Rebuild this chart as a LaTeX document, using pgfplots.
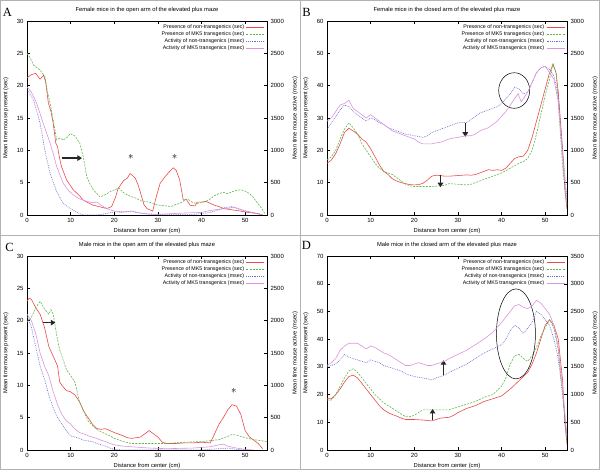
\documentclass[border=0pt]{standalone}
\usepackage{fontspec}
\setmainfont{Liberation Sans}
\newfontfamily\letterfont{Liberation Serif}
\usepackage{pgfplots}
\pgfplotsset{compat=1.18}
\usetikzlibrary{arrows.meta}
\definecolor{cRed}{RGB}{235,75,75}
\definecolor{cGreen}{RGB}{95,185,75}
\definecolor{cBlue}{RGB}{105,105,215}
\definecolor{cPink}{RGB}{220,150,220}
\tikzset{
  sRed/.style={cRed, line width=0.6pt, solid},
  sGreen/.style={cGreen, line width=0.6pt, dash pattern=on 2pt off 1.2pt},
  sBlue/.style={cBlue, line width=0.6pt, dash pattern=on 0.8pt off 1pt},
  sPink/.style={cPink, line width=0.6pt, solid},
  ann/.style={black!85, line width=1.3pt, -{Triangle[length=4.5pt,width=5.5pt]}}
}
\pgfplotsset{
  common/.style={
    width=240pt, height=194pt, scale only axis,
    xmin=0, xmax=55, xtick={0,10,20,30,40,50},
    tick align=inside, major tick length=3pt,
    tick style={black, line width=0.4pt},
    axis line style={line width=0.5pt},
    ticklabel style={font=\fontsize{6}{7}\selectfont},
    /pgf/number format/assume math mode=true,
    /pgf/number format/1000 sep={},
    scaled ticks=false,
    label style={font=\fontsize{5.8}{7}\selectfont},
    every axis title shift=0pt,
    title style={font=\fontsize{5.8}{7}\selectfont, at={(axis description cs:0.5,1.057)}, anchor=center},
    xlabel style={at={(axis description cs:0.5,-0.082)}, anchor=center},
  },
  left/.style={common, ytick pos=left,
    ylabel={Mean time mouse present (sec)},
    ylabel style={at={(axis description cs:-0.088,0.5)}, anchor=center},
    xlabel={Distance from center (cm)}},
  right/.style={common, axis y line*=right, axis x line=none,
    ylabel={Mean time mouse active (msec)},
    ylabel style={at={(axis description cs:1.117,0.5)}, anchor=center},
    legend style={at={(1,1)}, anchor=north east, draw=none, fill=none,
      font=\fontsize{5.3}{6}\selectfont, row sep=-2.2pt, inner xsep=2pt, inner ysep=1pt},
    legend cell align=right, legend plot pos=right,
    legend image code/.code={\draw[##1] (0pt,0pt) -- (18pt,0pt);}},
}
\begin{document}
\begin{tikzpicture}
\useasboundingbox (0pt,0pt) rectangle (600pt,470pt);
\fill[white] (0pt,0pt) rectangle (600pt,470pt);
\draw[gray!60, line width=0.8pt] (0.5pt,0.5pt) rectangle (599.5pt,469.5pt);
\draw[gray!60, line width=0.8pt] (300pt,0pt) -- (300pt,470pt);
\draw[gray!60, line width=0.8pt] (0pt,235pt) -- (600pt,235pt);
\node[font=\letterfont\fontsize{12.5}{13}\selectfont] at (7.5pt,457.5pt) {A};
\node[font=\letterfont\fontsize{12.5}{13}\selectfont] at (306.5pt,457.5pt) {B};
\node[font=\letterfont\fontsize{12.5}{13}\selectfont] at (9.5pt,222.5pt) {C};
\node[font=\letterfont\fontsize{12.5}{13}\selectfont] at (306.5pt,224.5pt) {D};

% ---------------- Panel A ----------------
\begin{axis}[left, at={(27pt,255pt)}, anchor=south west, ymin=0, ymax=30, ytick={0,5,...,30},
  title={Female mice in the open arm of the elevated plus maze}]
\addplot[sRed] coordinates {(0,21.2)(1,21.7)(2,21.9)(3,21.0)(3.8,21.6)(4.3,20.5)(4.9,17.3)(5.5,16.0)(6,14.2)(6.6,11.1)(7,10.6)(7.4,9.0)(7.9,7.5)(9.1,5.4)(10.6,3.9)(12,3.0)(12.9,2.3)(14,1.9)(15.2,1.5)(16.5,1.3)(18.3,1.0)(19.4,1.3)(20.2,2.6)(20.9,4.1)(22.1,5.3)(23,5.7)(23.6,6.4)(24.2,6.1)(24.8,5.7)(25.5,4.6)(26.2,3.0)(26.8,1.6)(27.5,1.0)(28.8,0.6)(29.5,2.5)(30.5,4.9)(31.5,5.8)(32.5,6.6)(33.5,7.3)(34.2,6.9)(35,5.4)(35.5,3.5)(35.8,2.3)(36.5,2.4)(37.4,1.5)(38.5,1.4)(39,2.0)(40,2.0)(41,2.1)(42,1.8)(43,1.5)(44,1.3)(45,1.0)(47,0.8)(49,0.6)(50.5,0.4)(52,0.3)(53,0.2)(54,0.0)};
\addplot[sGreen] coordinates {(0,25.0)(0.8,24.2)(1.5,23.2)(3,22.4)(4.1,21.4)(4.7,19.0)(5.3,17.3)(6,14.7)(6.8,11.6)(7.5,11.9)(8.3,11.6)(9.2,12.0)(9.9,12.6)(11,12.2)(12.1,11.1)(12.9,9.0)(13.7,5.9)(14.5,4.7)(15.2,3.9)(16.7,2.8)(17.5,3.0)(18.6,3.4)(19.5,3.8)(20.2,3.9)(21,4.2)(22,3.5)(23.6,2.9)(25,2.6)(26,2.2)(27,2.1)(28,2.0)(29,1.7)(30.5,1.5)(32,1.4)(33,1.3)(34,1.6)(35,1.8)(36,2.2)(36.8,2.5)(38,1.9)(39,1.8)(40,1.9)(41,2.1)(42,2.5)(43,3.0)(44,3.3)(45,3.5)(46,3.3)(47,3.6)(48,3.8)(49,3.9)(50,3.7)(51,3.3)(52,2.6)(53,1.7)(54,0.8)(54.6,0.1)};
\draw[ann] (axis cs:8,8.8) -- (axis cs:12.6,8.8);
\node[font=\fontsize{11}{11}\selectfont] at (axis cs:23.8,9.0) {$\ast$};
\node[font=\fontsize{11}{11}\selectfont] at (axis cs:33.8,9.0) {$\ast$};
\end{axis}
\begin{axis}[right, at={(27pt,255pt)}, anchor=south west, ymin=0, ymax=3000, ytick={0,500,...,3000}]
\addlegendimage{sRed}\addlegendentry{Presence of non-transgenics (sec)}
\addlegendimage{sGreen}\addlegendentry{Presence of MK5 transgenics (sec)}
\addplot[sBlue] coordinates {(0,1940)(1.5,1780)(3,1420)(4.1,1000)(5.3,640)(6.8,360)(8.3,180)(9.9,100)(11,60)(12.1,20)(13,0)(16,0)(18,20)(20,50)(22,40)(24,60)(25,40)(27,20)(30,10)(34,10)(38,10)(40,20)(42,40)(44,80)(45,110)(47,130)(49,80)(51,50)(53,20)(54,0)};
\addlegendentry{Activity of non-transgenics (msec)}
\addplot[sPink] coordinates {(0,1980)(1,1900)(2.2,1730)(3.7,1420)(5.3,1110)(6,950)(6.8,750)(8.3,490)(9.5,380)(10.6,310)(12,250)(13.7,210)(15,190)(16,200)(17,150)(18.3,100)(19,80)(20,60)(22,50)(24,60)(26,30)(28,10)(30,10)(33,20)(36,30)(40,40)(42,70)(44,90)(46,100)(47,120)(48,110)(50,60)(52,30)(54,0)};
\addlegendentry{Activity of MK5 transgenics (msec)}
\end{axis}

% ---------------- Panel B ----------------
\begin{axis}[left, at={(327pt,255pt)}, anchor=south west, ymin=0, ymax=60, ytick={0,10,...,60},
  title={Female mice in the closed arm of the elevated plus maze}]
\addplot[sRed] coordinates {(0,16)(1,17)(2,19)(3,22)(4,25.5)(5,26.8)(6,26)(7,25)(8,23.5)(9,22.5)(10,20.5)(11,18)(12,15.5)(13,13.5)(14,12.5)(15,11.2)(16,10.5)(17,10)(18,9.7)(19,9.4)(20,9.3)(21,9.4)(22,9.8)(23,10.8)(24,12)(25,12.3)(26,12.2)(27,12)(28,12)(30,12.2)(32,12.4)(33,12.3)(34,12.5)(35,13)(36,13.5)(37,14)(38,13.8)(39,14)(40,13.8)(41,14.5)(42,16)(43,17.5)(44,18)(45,18.2)(46,20)(47,24)(48,29)(49,34)(50,39)(51,44)(51.8,46.5)(52.5,44)(53,38)(54,20)(54.5,8)(55,2)};
\addplot[sGreen] coordinates {(0,17)(1,18)(2,20)(3,23.5)(4,26.5)(5,28.5)(6,27)(7,25)(8,22)(9,20)(10,18)(11,16)(12,14.5)(13,13.5)(14,13)(15,12.5)(16,11.5)(17,10.5)(18,9.5)(19,9)(20,8.8)(22,8.8)(24,8.8)(26,9)(27,9.2)(28,9.7)(30,9.5)(32,9.3)(33,9.5)(34,10)(36,11)(38,12)(40,13)(42,14.5)(44,16)(45,16.5)(46,17.5)(47,20)(48,25)(49,31)(50,37)(51,42)(51.8,47)(52.5,44)(53,35)(54,15)(55,2)};
\draw[ann] (axis cs:26,12.4) -- (axis cs:26,8.6);
\draw[ann] (axis cs:31.7,28.4) -- (axis cs:31.7,24.2);
\draw[black, line width=0.5pt] (axis cs:42.9,38.5) ellipse [x radius=15.5pt, y radius=17.8pt];
\end{axis}
\begin{axis}[right, at={(327pt,255pt)}, anchor=south west, ymin=0, ymax=3000, ytick={0,500,...,3000}]
\addlegendimage{sRed}\addlegendentry{Presence of non-transgenics (sec)}
\addlegendimage{sGreen}\addlegendentry{Presence of MK5 transgenics (sec)}
\addplot[sBlue] coordinates {(0,1325)(1,1425)(2,1525)(3,1625)(4,1700)(5,1675)(6,1600)(7,1550)(8,1500)(9,1450)(10,1500)(11,1475)(12,1425)(13,1400)(14,1350)(15,1325)(16,1300)(17,1275)(18,1250)(19,1240)(20,1225)(21,1215)(22,1200)(23,1225)(24,1275)(25,1300)(26,1325)(27,1350)(28,1375)(29,1400)(30,1425)(31,1435)(32,1425)(33,1475)(34,1525)(35,1575)(36,1600)(37,1625)(38,1650)(39,1675)(40,1725)(41,1800)(42,1875)(43,1975)(44,1950)(45,1875)(46,1900)(47,2050)(48,2200)(49,2275)(50,2300)(51,2250)(52,2150)(53,1850)(54,1000)(55,250)};
\addlegendentry{Activity of non-transgenics (msec)}
\addplot[sPink] coordinates {(0,1450)(1,1500)(2,1600)(3,1700)(4,1725)(5,1775)(6,1650)(7,1600)(8,1550)(9,1500)(10,1550)(11,1500)(12,1450)(13,1400)(14,1350)(15,1300)(16,1275)(17,1250)(18,1225)(19,1200)(20,1175)(21,1125)(22,1100)(23,1100)(24,1100)(25,1115)(26,1125)(27,1150)(28,1175)(29,1190)(30,1200)(31,1215)(32,1225)(33,1225)(34,1250)(35,1300)(36,1325)(37,1350)(38,1400)(39,1450)(40,1525)(41,1600)(42,1700)(43,1800)(43.8,1875)(44.5,1750)(45,1800)(46,1900)(47,2050)(48,2200)(49,2275)(50,2300)(51,2200)(52,2100)(53,1750)(54,900)(55,150)};
\addlegendentry{Activity of MK5 transgenics (msec)}
\end{axis}

% ---------------- Panel C ----------------
\begin{axis}[left, at={(27pt,20pt)}, anchor=south west, ymin=0, ymax=30, ytick={0,5,...,30},
  title={Male mice in the open arm of the elevated plus maze}]
\addplot[sRed] coordinates {(0,23)(0.5,23.5)(1,23.3)(2,22)(3,21)(4,19)(5,16)(6,14.5)(7,13)(7.5,10.5)(8,10)(9,9.2)(10,9)(11,8.5)(12,7.5)(13,6)(14,5)(15,4)(16,3.3)(17,3.2)(18,3.3)(19,3)(20,2.7)(22,2.2)(23,1.9)(24,1.8)(26,2)(27,2.5)(28,3)(29,2.5)(30,2)(31,1.2)(32,1)(34,1)(36,1.1)(38,1.1)(40,1.2)(42,1.1)(43,2.5)(44,4)(45,5)(46,6.2)(47,7)(48,6.8)(49,5.5)(50,3)(51,2)(52,1.5)(53,1)(54,0.2)};
\addplot[sGreen] coordinates {(0,19.8)(1,20.5)(2,22)(3,23)(4,21.8)(5,21)(5.5,21.7)(6,21)(7,17)(7.5,15.5)(8,14.5)(9,12.5)(10,11.5)(11,10.5)(11.5,9)(12,7.5)(13,6)(14,4.5)(15,3.8)(16,3.2)(17,2.8)(18,2.5)(19,2.2)(20,1.8)(22,1.3)(24,1.0)(28,1.0)(32,1.0)(36,1.2)(40,1.3)(44,1.6)(46,2.1)(47,2.4)(48,2.3)(50,1.9)(52,1.6)(55,1.3)};
\draw[ann] (axis cs:3.6,19.7) -- (axis cs:6.5,19.7);
\node[font=\fontsize{11}{11}\selectfont] at (axis cs:47.4,9.2) {$\ast$};
\end{axis}
\begin{axis}[right, at={(27pt,20pt)}, anchor=south west, ymin=0, ymax=3000, ytick={0,500,...,3000}]
\addlegendimage{sRed}\addlegendentry{Presence of non-transgenics (sec)}
\addlegendimage{sGreen}\addlegendentry{Presence of MK5 transgenics (sec)}
\addplot[sBlue] coordinates {(0,2080)(1,1900)(2,1600)(3,1300)(4,1100)(5,850)(6,650)(7,500)(8,400)(9,300)(10,220)(11,200)(12,180)(13,150)(14,140)(15,130)(16,100)(17,80)(18,60)(19,30)(20,10)(22,0)(40,0)(44,20)(46,30)(48,10)(50,0)};
\addlegendentry{Activity of non-transgenics (msec)}
\addplot[sPink] coordinates {(0,2100)(1,2000)(2,1800)(3,1500)(4,1300)(5,1150)(6,900)(7,700)(8,550)(9,450)(10,400)(11,320)(12,270)(13,250)(14,220)(15,200)(16,180)(17,150)(18,130)(19,100)(20,80)(22,60)(24,50)(28,30)(32,20)(38,30)(42,50)(44,80)(45,90)(46,60)(48,30)(50,10)(52,0)};
\addlegendentry{Activity of MK5 transgenics (msec)}
\end{axis}

% ---------------- Panel D ----------------
\begin{axis}[left, at={(327pt,20pt)}, anchor=south west, ymin=0, ymax=70, ytick={0,10,...,70},
  title={Male mice in the closed arm of the elevated plus maze}]
\addplot[sRed] coordinates {(0,18.5)(1,18.5)(2,20)(3,22)(4,24.5)(5,26.5)(6,27)(7,26)(8,24)(9,22)(10,20)(11,18)(12,16)(13,14.5)(14,13.5)(15,12.8)(16,12.2)(17,11.5)(18,11)(20,11)(22,10.8)(24,10.5)(25,11)(26,11.5)(28,11.8)(29,12.5)(30,13.5)(32,15)(34,16)(36,17.5)(38,18.5)(40,19.5)(42,22)(44,25)(46,28)(47,31)(48,35)(49,40)(50,45)(51,47)(52,45)(53,40)(54,25)(54.5,10)(55,2)};
\addplot[sGreen] coordinates {(0,18)(1,18)(2,20)(3,23)(4,26)(5,28.5)(6,29.3)(7,28)(8,26)(9,24)(10,22)(11,20)(12,18.5)(13,17)(14,16)(15,15)(16,14)(17,13)(18,12)(19,12)(20,12.5)(21,13.5)(22,14.5)(23,14.5)(24,14.5)(26,14.5)(28,14.5)(30,15.5)(32,16.5)(34,17.5)(36,19)(38,20)(40,23)(41,26)(42,31)(43,34)(44,34.5)(45,33)(46,32)(47,34)(48,37)(49,41)(50,44)(51,47)(52,44)(53,36)(54,20)(55,3)};
\draw[ann] (axis cs:24.2,10.8) -- (axis cs:24.2,14.8);
\draw[ann] (axis cs:26.7,27.2) -- (axis cs:26.7,32.4);
\draw[black, line width=0.5pt] (axis cs:43.3,41.9) ellipse [x radius=19.5pt, y radius=45pt];
\end{axis}
\begin{axis}[right, at={(327pt,20pt)}, anchor=south west, ymin=0, ymax=3500, ytick={0,500,...,3500}]
\addlegendimage{sRed}\addlegendentry{Presence of non-transgenics (sec)}
\addlegendimage{sGreen}\addlegendentry{Presence of MK5 transgenics (sec)}
\addplot[sBlue] coordinates {(0,1500)(1,1525)(2,1550)(3,1625)(4,1725)(5,1675)(6,1650)(7,1625)(8,1600)(9,1575)(10,1625)(11,1600)(12,1575)(13,1525)(14,1500)(15,1475)(16,1450)(17,1425)(18,1375)(19,1350)(20,1325)(22,1300)(24,1265)(25,1300)(26,1325)(27,1350)(28,1400)(30,1475)(32,1550)(34,1650)(36,1750)(38,1825)(40,1900)(41,2000)(42,2150)(43,2250)(44,2200)(45,2100)(46,2200)(47,2300)(48,2500)(49,2450)(50,2350)(51,2250)(52,2000)(53,1650)(54,1000)(55,200)};
\addlegendentry{Activity of non-transgenics (msec)}
\addplot[sPink] coordinates {(0,1525)(1,1575)(2,1650)(3,1800)(4,1875)(5,1925)(6,1925)(7,1925)(8,1875)(9,1825)(10,1875)(11,1850)(12,1800)(13,1750)(14,1725)(15,1675)(16,1625)(17,1575)(18,1525)(19,1525)(20,1550)(21,1575)(22,1550)(23,1525)(24,1525)(25,1550)(26,1575)(27,1600)(28,1650)(30,1725)(32,1800)(34,1900)(36,2000)(38,2125)(40,2300)(41,2400)(42,2500)(43,2600)(44,2625)(45,2575)(46,2550)(47,2600)(48,2700)(49,2650)(50,2550)(51,2450)(52,2250)(53,1850)(54,1100)(55,250)};
\addlegendentry{Activity of MK5 transgenics (msec)}
\end{axis}
\end{tikzpicture}
\end{document}
